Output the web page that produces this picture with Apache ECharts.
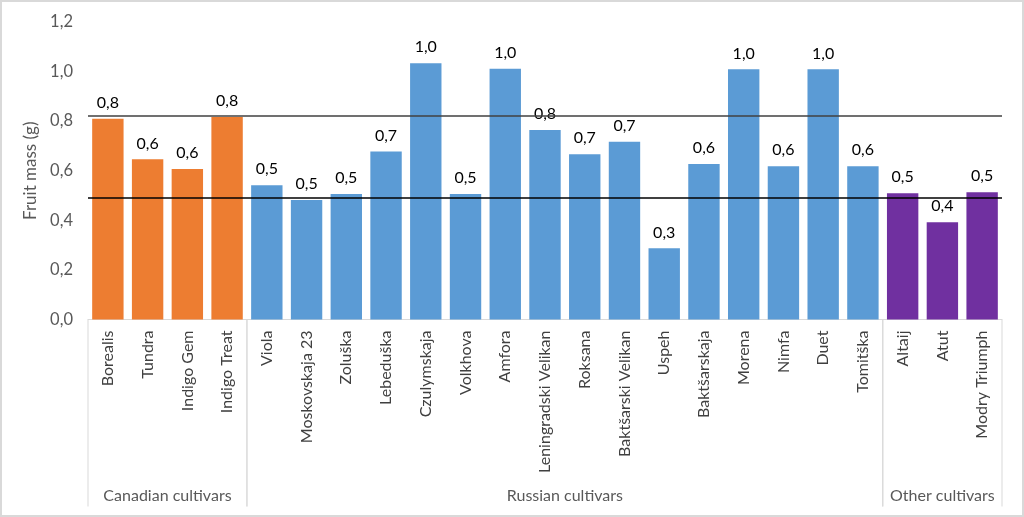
<!DOCTYPE html>
<html>
<head>
<meta charset="utf-8">
<script src="https://cdn.jsdelivr.net/npm/echarts@6/dist/echarts.min.js"></script>
<style>
html,body{margin:0;padding:0;background:#fff;}
#frame{width:1024px;height:517px;box-sizing:border-box;border:2px solid #d9d9d9;position:relative;}
#chart{position:absolute;left:-2px;top:-2px;width:1024px;height:517px;}
</style>
</head>
<body>
<div id="frame"><div id="chart"></div></div>
<script>
const categories = ["Borealis","Tundra","Indigo Gem","Indigo Treat","Viola","Moskovskaja 23","Zoluška","Lebeduška","Czulymskaja","Volkhova","Amfora","Leningradski Velikan","Roksana","Baktšarski Velikan","Uspeh","Baktšarskaja","Morena","Nimfa","Duet","Tomitška","Altaij","Atut","Modry Triumph"];
const fruitMass = [0.81,0.646,0.607,0.817,0.542,0.482,0.506,0.678,1.034,0.506,1.011,0.764,0.667,0.717,0.287,0.627,1.009,0.618,1.009,0.618,0.509,0.392,0.513];
const groupNames = ["Canadian cultivars","Russian cultivars","Other cultivars"];
const groupStart = [0,4,20];
const groupEnd = [3,19,22];
const groupColors = ["#ED7D31","#5B9BD5","#7030A0"];
const refLineUpper = 0.817;
const refLineLower = 0.495;
const yTicks = [0,0.2,0.4,0.6,0.8,1.0,1.2];

function groupOf(i){ for(let g=0;g<groupStart.length;g++){ if(i>=groupStart[g] && i<=groupEnd[g]) return g; } return 0; }
const fmt = v => Number(v).toFixed(1).replace('.', ',');
const FONT = 'Lato, "Open Sans", sans-serif';

const chart = echarts.init(document.getElementById('chart'));
chart.setOption({
  animation:false,
  grid:{left:88,right:22,top:22,bottom:197.5,containLabel:false},
  xAxis:{
    type:'category', data:categories,
    axisLine:{show:true,lineStyle:{color:'#d9d9d9',width:1}},
    axisTick:{show:false},
    axisLabel:{rotate:90,margin:11,fontFamily:FONT,fontSize:16,color:'#404040',interval:0}
  },
  yAxis:{
    type:'value', min:yTicks[0], max:yTicks[yTicks.length-1], interval:0.2,
    name:'Fruit mass (g)', nameLocation:'middle', nameGap:44,
    nameTextStyle:{fontFamily:FONT,fontSize:17,color:'#595959'},
    axisLine:{show:false}, axisTick:{show:false}, splitLine:{show:false},
    axisLabel:{formatter:fmt,margin:15,fontFamily:FONT,fontSize:16.5,color:'#595959'}
  },
  series:[
    {
      type:'bar',
      data:fruitMass.map((v,i)=>({value:v,itemStyle:{color:groupColors[groupOf(i)]}})),
      barCategoryGap:'21%',
      label:{show:true,position:'top',distance:8,formatter:p=>fmt(p.value),fontFamily:FONT,fontSize:16,color:'#000'},
      markLine:{
        silent:true, symbol:'none', label:{show:false},
        data:[
          {yAxis:refLineUpper,lineStyle:{color:'#404040',width:1.5,type:'solid'}},
          {yAxis:refLineLower,lineStyle:{color:'#000',width:1.5,type:'solid'}}
        ]
      }
    },
    {
      type:'custom',
      clip:false,
      silent:true,
      data:groupNames.map((n,g)=>[groupStart[g],groupEnd[g],n]),
      encode:{x:[0,1]},
      renderItem:function(params,api){
        const s = api.coord([api.value(0),0]);
        const e = api.coord([api.value(1),0]);
        const band = api.size([1,0])[0];
        const x0 = s[0]-band/2, x1 = e[0]+band/2, y0 = s[1];
        const name = groupNames[params.dataIndex];
        return {type:'group',children:[
          {type:'line',shape:{x1:x0,y1:y0,x2:x0,y2:y0+187},style:{stroke:'#d9d9d9',lineWidth:1}},
          {type:'line',shape:{x1:x1,y1:y0,x2:x1,y2:y0+187},style:{stroke:'#d9d9d9',lineWidth:1}},
          {type:'text',style:{text:name,x:(x0+x1)/2,y:y0+176,align:'center',verticalAlign:'middle',font:'16px '+FONT,fill:'#595959'}}
        ]};
      }
    }
  ]
});
</script>
</body>
</html>
